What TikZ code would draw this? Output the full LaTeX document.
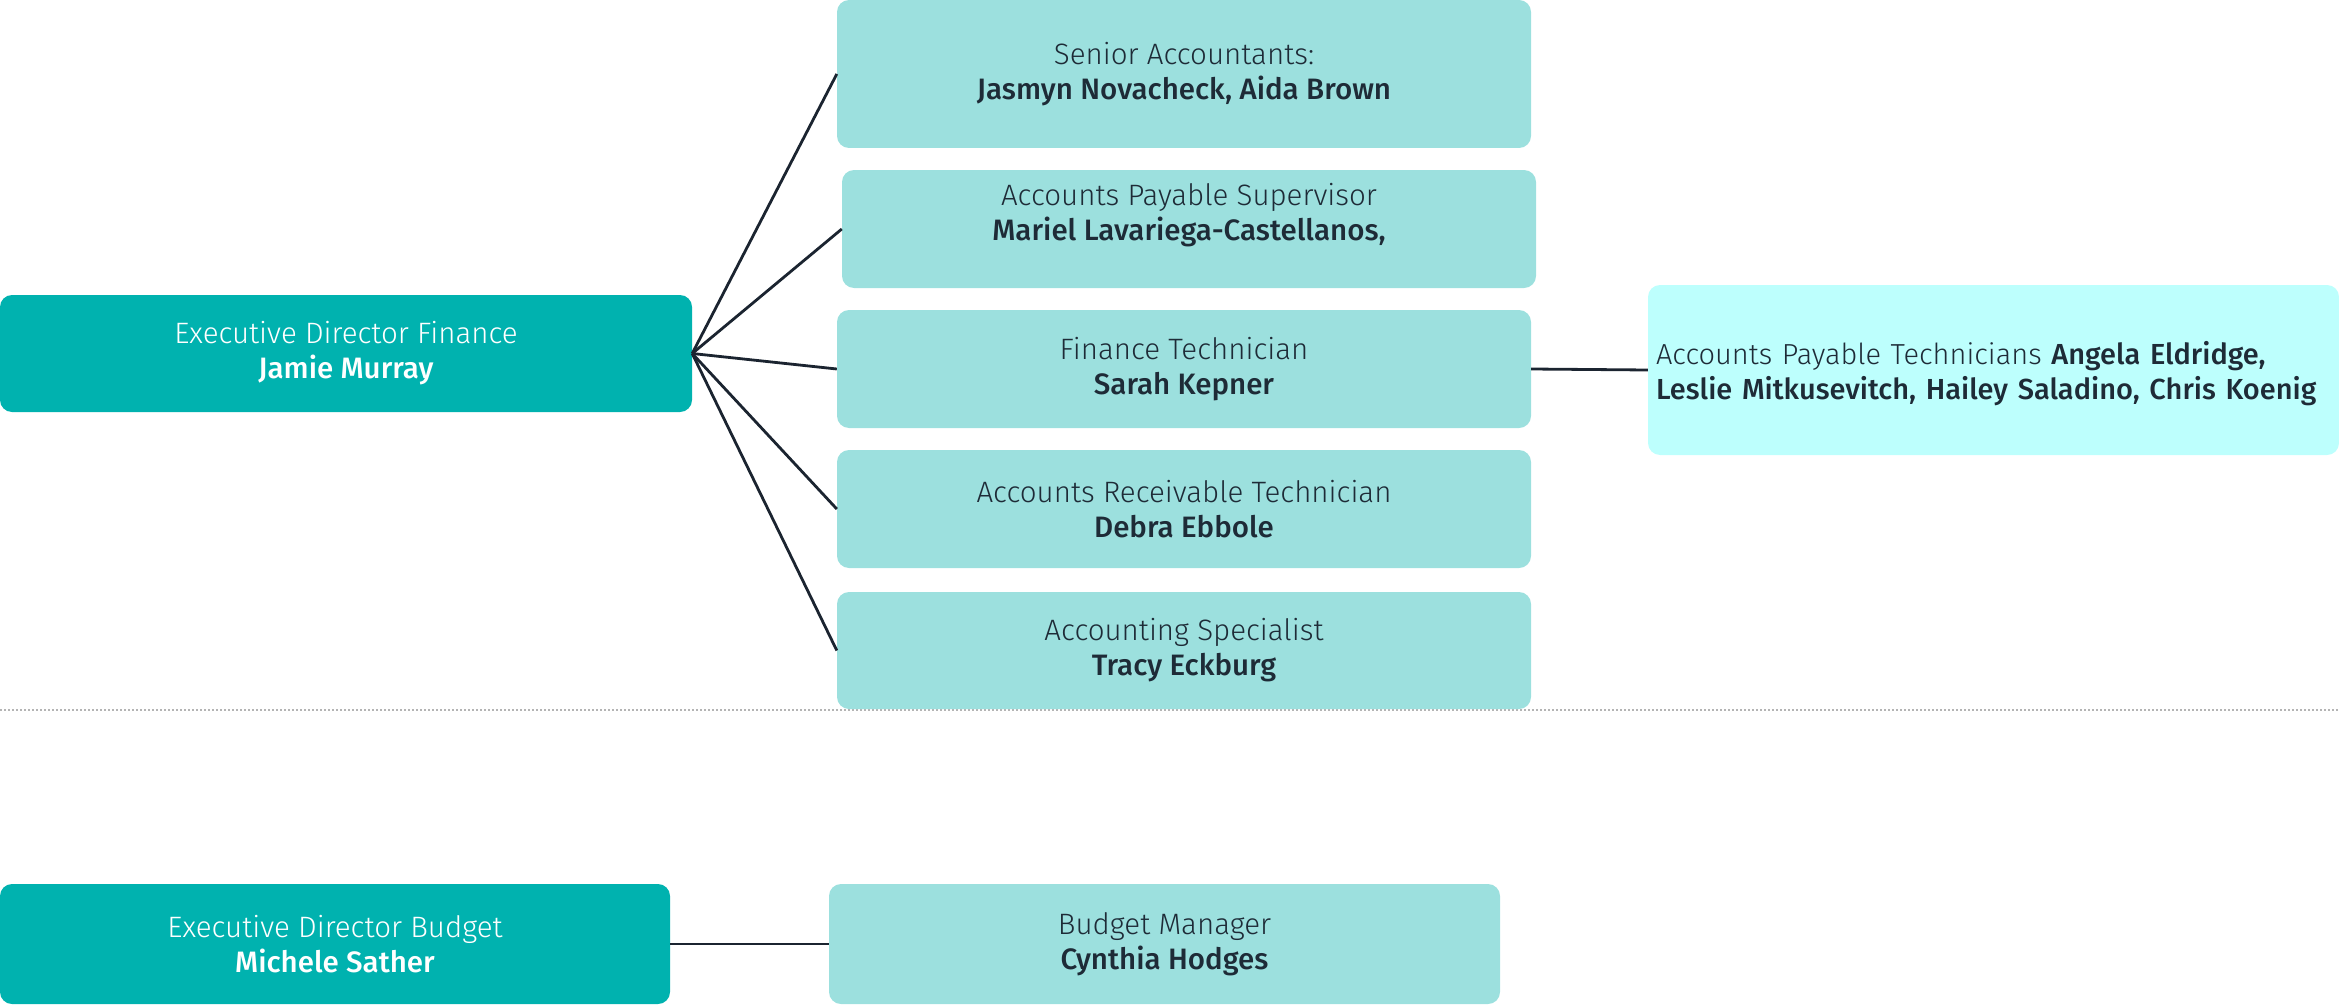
\documentclass[tikz,border=0pt]{standalone}
\usepackage{fontspec}
\setmainfont{Fira Sans}[UprightFont=* Light, BoldFont=* Medium]
\definecolor{darkteal}{HTML}{00B2AF}
\definecolor{lightteal}{HTML}{9CE0DE}
\definecolor{paleteal}{HTML}{BDFFFD}
\definecolor{ink}{HTML}{1E2B37}
\definecolor{wire}{HTML}{1B2430}
\definecolor{dotgray}{HTML}{B4B4B4}
\newcommand{\myhi}{\rule{0pt}{30pt}}
\begin{document}
\begin{tikzpicture}[x=1pt,y=-1pt,
  box/.style={rectangle, rounded corners=12pt, inner sep=0pt, align=center,
    font=\fontsize{29.5}{35}\selectfont, execute at begin node=\myhi},
  headbox/.style={box, fill=darkteal, text=white},
  staffbox/.style={box, fill=lightteal, text=ink},
  conn/.style={draw=wire, line width=2.8pt}]
\useasboundingbox (0,0) rectangle (2339,1006);

\draw[dotgray, line width=2pt, dash pattern=on 2pt off 2pt] (0,710) -- (2339,710);

\node[headbox, minimum width=692pt, minimum height=117pt] (edf) at (346,353.5)
  {Executive Director Finance\\\textbf{Jamie Murray}};

\node[staffbox, minimum width=694pt, minimum height=148pt] (sen) at (1184,74)
  {Senior Accountants:\\\textbf{Jasmyn Novacheck, Aida Brown}};
\node[staffbox, minimum width=694pt, minimum height=118pt] (aps) at (1189,229)
  {Accounts Payable Supervisor\\\textbf{Mariel Lavariega-Castellanos,}\\\mbox{}};
\node[staffbox, minimum width=694pt, minimum height=118pt] (ft) at (1184,369)
  {Finance Technician\\\textbf{Sarah Kepner}};
\node[staffbox, minimum width=694pt, minimum height=118pt] (ar) at (1184,509)
  {Accounts Receivable Technician\\\textbf{Debra Ebbole}};
\node[staffbox, minimum width=694pt, minimum height=117pt] (as) at (1184,650.5)
  {Accounting Specialist\\\textbf{Tracy Eckburg}};

\node[box, fill=paleteal, text=ink, align=left, text width=675pt, inner xsep=8pt,
  font=\fontsize{29}{35}\selectfont,
  minimum width=691pt, minimum height=170pt] (apt) at (1993.5,370)
  {Accounts Payable Technicians \textbf{Angela Eldridge,}\\\textbf{Leslie Mitkusevitch, Hailey Saladino, Chris Koenig}};

\node[headbox, minimum width=670pt, minimum height=120pt] (edb) at (335,944)
  {Executive Director Budget\\\textbf{Michele Sather}};
\node[staffbox, minimum width=671pt, minimum height=120pt] (bm) at (1164.5,944)
  {Budget Manager\\\textbf{Cynthia Hodges}};

\draw[conn] (edf.east) -- (sen.west);
\draw[conn] (edf.east) -- (aps.west);
\draw[conn] (edf.east) -- (ft.west);
\draw[conn] (edf.east) -- (ar.west);
\draw[conn] (edf.east) -- (as.west);
\draw[conn] (ft.east) -- (apt.west);
\draw[conn] (edb.east) -- (bm.west);
\end{tikzpicture}
\end{document}
